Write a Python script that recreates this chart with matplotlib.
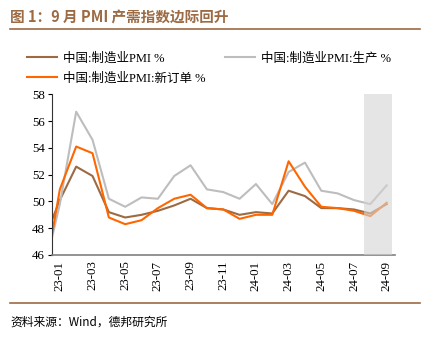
import matplotlib
matplotlib.use("Agg")
import matplotlib.pyplot as plt
from matplotlib.lines import Line2D

plt.rcParams['font.family'] = ['Liberation Serif', 'Noto Sans CJK SC', 'DejaVu Sans']

# monthly data, 22-12 is only partly visible at the left edge
months = ['22-12', '23-01', '23-02', '23-03', '23-04', '23-05', '23-06', '23-07', '23-08',
          '23-09', '23-10', '23-11', '23-12', '24-01', '24-02', '24-03', '24-04', '24-05',
          '24-06', '24-07', '24-08', '24-09']
pmi = [47.0, 50.1, 52.6, 51.9, 49.2, 48.8, 49.0, 49.3, 49.7, 50.2, 49.5, 49.4, 49.0,
       49.2, 49.1, 50.8, 50.4, 49.5, 49.5, 49.4, 49.1, 49.8]
production = [44.6, 49.8, 56.7, 54.6, 50.2, 49.6, 50.3, 50.2, 51.9, 52.7, 50.9, 50.7, 50.2,
              51.3, 49.8, 52.2, 52.9, 50.8, 50.6, 50.1, 49.8, 51.2]
new_orders = [43.9, 50.9, 54.1, 53.6, 48.8, 48.3, 48.6, 49.5, 50.2, 50.5, 49.5, 49.4, 48.7,
              49.0, 49.0, 53.0, 51.1, 49.6, 49.5, 49.3, 48.9, 49.9]
shade_months = ['24-08', '24-09']

brown = '#9c6a43'
grey = '#bdbdbd'
orange = '#ff6600'

fig = plt.figure(figsize=(4.25, 3.43), dpi=100)
ax = fig.add_axes([0.1216, 0.2566, 0.8074, 0.4684])

x = list(range(len(months)))
ax.plot(x, pmi, color=brown, lw=1.5, label='中国:制造业PMI %')
ax.plot(x, production, color=grey, lw=1.5, label='中国:制造业PMI:生产 %')
ax.plot(x, new_orders, color=orange, lw=1.5, label='中国:制造业PMI:新订单 %')

s0 = months.index(shade_months[0])
s1 = months.index(shade_months[-1])
ax.axvspan(s0 - 0.4, s1 + 0.35, color='#d4d4d4', alpha=0.6, lw=0, zorder=3)

ax.set_xlim(0.5, len(months) - 0.5)
ax.set_ylim(46, 58)
ax.set_yticks(range(46, 59, 2))
tick_idx = list(range(1, len(months), 2))
ax.set_xticks(tick_idx)
ax.set_xticklabels([months[i] for i in tick_idx], rotation=90, fontsize=9.3)
ax.tick_params(axis='y', labelsize=9.3, length=3, width=0.8, direction='out', pad=2)
ax.tick_params(axis='x', length=0, pad=4)

for s in ['top', 'right']:
    ax.spines[s].set_visible(False)
ax.spines['left'].set_linewidth(0.8)
ax.spines['left'].set_color('#333333')
ax.spines['bottom'].set_linewidth(1.2)
ax.spines['bottom'].set_color('#808080')

handles, labels = ax.get_legend_handles_labels()
order = [0, 2, 1]
fig.legend([handles[i] for i in order], [labels[i] for i in order],
           loc='upper left', bbox_to_anchor=(0.064, 0.848), ncol=2, frameon=False,
           fontsize=9, handlelength=2.4, handletextpad=0.5, columnspacing=1.5,
           labelspacing=0.65, borderpad=0, borderaxespad=0)

fig.text(0.024, 0.948, '图 1：9 月 PMI 产需指数边际回升', color=brown, fontsize=10.5,
         fontweight='bold', va='center', family=['Noto Sans CJK SC', 'DejaVu Sans'])
fig.add_artist(Line2D([0.024, 0.988], [0.9155, 0.9155], color=brown, lw=1.2))
fig.add_artist(Line2D([0.024, 0.988], [0.1166, 0.1166], color=brown, lw=1.2))
fig.text(0.024, 0.061, '资料来源：Wind，德邦研究所', fontsize=8.5, va='center',
         family=['Noto Sans CJK SC', 'DejaVu Sans'])

fig.savefig('out.png', dpi=100)
